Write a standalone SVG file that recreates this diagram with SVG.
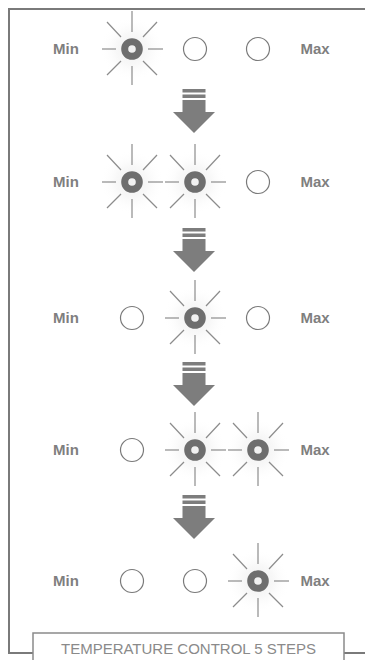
<svg xmlns="http://www.w3.org/2000/svg" width="365" height="660" viewBox="0 0 365 660">
<style>
.frame{fill:none;stroke:#7a7a7a;stroke-width:2}
.box{fill:#fff;stroke:#8a8a8a;stroke-width:1.5}
.lbl{font-family:"Liberation Sans",Arial,sans-serif;font-weight:bold;font-size:15px;fill:#7f7f7f}
.cap{font-family:"Liberation Sans",Arial,sans-serif;font-size:15px;fill:#8a8a8a}
.off{fill:none;stroke:#7a7a7a;stroke-width:1.2}
.ring{fill:none;stroke:#6e6e6e;stroke-width:7}
.ray{stroke:#8c8c8c;stroke-width:1.2}
.arr{fill:#7d7d7d}
</style>
<defs>
<radialGradient id="halo">
<stop offset="0" stop-color="#f0f0f0"/>
<stop offset="0.5" stop-color="#f8f8f8"/>
<stop offset="1" stop-color="#fff" stop-opacity="0"/>
</radialGradient>
<filter id="soft" x="-50%" y="-50%" width="200%" height="200%"><feGaussianBlur stdDeviation="0.7"/></filter>
<g id="lit">
<circle r="32" fill="url(#halo)"/>
<g class="ray">
<line x1="0" y1="-17" x2="0" y2="-38"/>
<line x1="0" y1="17" x2="0" y2="36"/>
<line x1="-16" y1="0" x2="-30" y2="0"/>
<line x1="16" y1="0" x2="31" y2="0"/>
<line x1="-11" y1="-12" x2="-25" y2="-27"/>
<line x1="11" y1="-12" x2="25" y2="-27"/>
<line x1="-11" y1="12" x2="-25" y2="26"/>
<line x1="11" y1="12" x2="25" y2="26"/>
</g>
<circle class="ring" r="7.3" filter="url(#soft)"/>
</g>
<circle id="offc" class="off" r="11.5"/>
<g id="arrow" class="arr">
<rect x="-11.5" y="0" width="23" height="3.5"/>
<rect x="-11.5" y="5.5" width="23" height="3.5"/>
<rect x="-11.5" y="11" width="23" height="12"/>
<polygon points="-21,23 21,23 0,44"/>
</g>
</defs>
<g id="frame">
<polyline class="frame" points="365,9 9,9 9,653 33,653"/>
<line class="frame" x1="344" y1="653" x2="365" y2="653"/>
</g>
<g id="caption">
<rect class="box" x="33" y="633" width="311" height="30"/>
<text class="cap" x="188.5" y="654" text-anchor="middle">TEMPERATURE CONTROL 5 STEPS</text>
</g>
<g id="row1">
<text class="lbl" x="53" y="53.5">Min</text>
<use href="#lit" x="132" y="49"/>
<use href="#offc" x="195" y="49"/>
<use href="#offc" x="258" y="49"/>
<text class="lbl" x="300.5" y="53.5">Max</text>
</g>
<g id="row2">
<text class="lbl" x="53" y="186.5">Min</text>
<use href="#lit" x="132" y="182"/>
<use href="#lit" x="195" y="182"/>
<use href="#offc" x="258" y="182"/>
<text class="lbl" x="300.5" y="186.5">Max</text>
</g>
<g id="row3">
<text class="lbl" x="53" y="322.5">Min</text>
<use href="#offc" x="132" y="318"/>
<use href="#lit" x="195" y="318"/>
<use href="#offc" x="258" y="318"/>
<text class="lbl" x="300.5" y="322.5">Max</text>
</g>
<g id="row4">
<text class="lbl" x="53" y="454.5">Min</text>
<use href="#offc" x="132" y="450"/>
<use href="#lit" x="195" y="450"/>
<use href="#lit" x="258" y="450"/>
<text class="lbl" x="300.5" y="454.5">Max</text>
</g>
<g id="row5">
<text class="lbl" x="53" y="585.5">Min</text>
<use href="#offc" x="132" y="581"/>
<use href="#offc" x="195" y="581"/>
<use href="#lit" x="258" y="581"/>
<text class="lbl" x="300.5" y="585.5">Max</text>
</g>
<g id="connectors">
<use href="#arrow" x="194" y="89"/>
<use href="#arrow" x="194" y="228"/>
<use href="#arrow" x="194" y="362"/>
<use href="#arrow" x="194" y="495"/>
</g>
</svg>
